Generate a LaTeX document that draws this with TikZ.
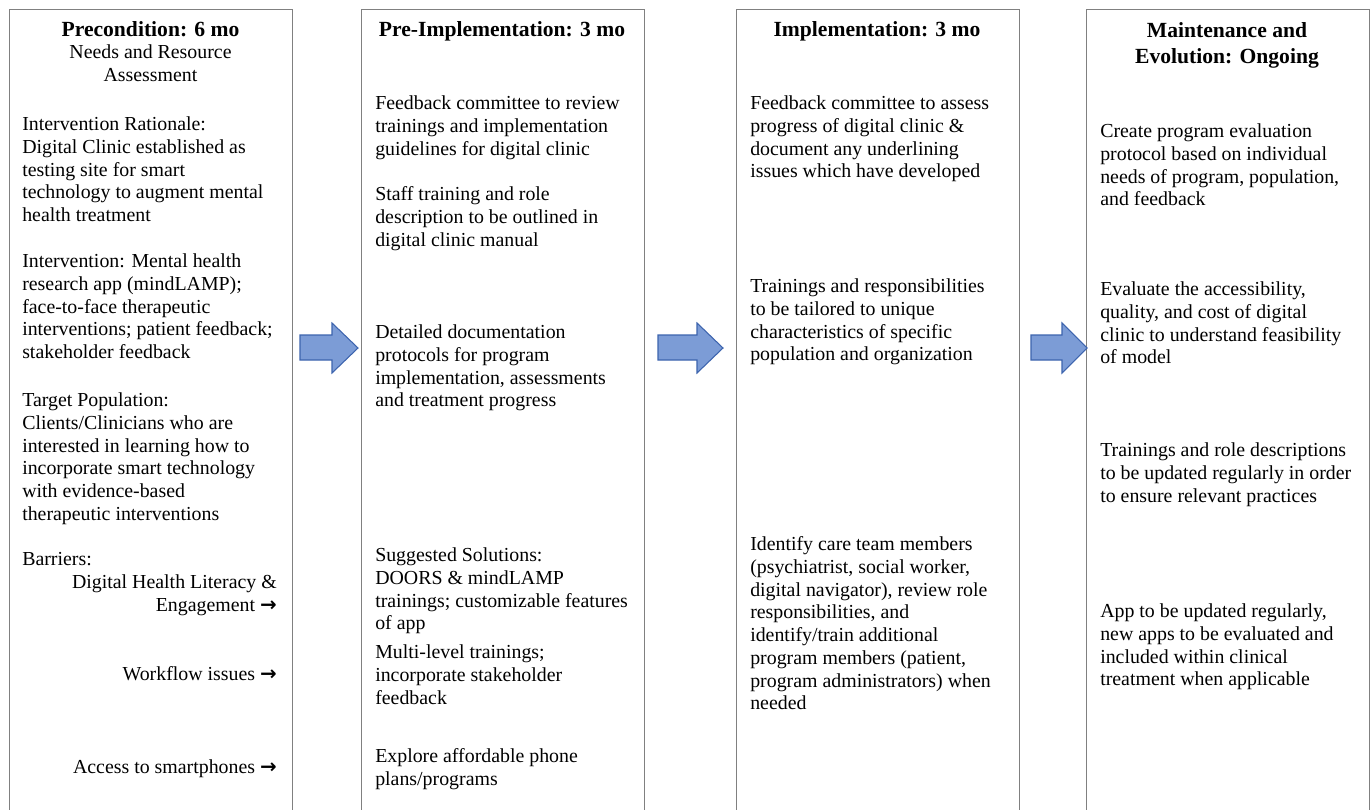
\documentclass[tikz,border=0pt]{standalone}
\usepackage{fontspec}
\setmainfont{Liberation Serif}
\newfontfamily\arrowfont{DejaVu Sans}
\newcommand\rarr{{\arrowfont\bfseries →}}
\definecolor{boxgray}{RGB}{128,128,128}
\definecolor{arrfill}{RGB}{124,156,214}
\definecolor{arrline}{RGB}{61,100,174}
\begin{document}
\begin{tikzpicture}[x=0.75pt,y=-0.75pt,
  colbox/.style={draw=boxgray,line width=1.1pt,inner sep=0pt,minimum width=212.25pt,minimum height=615pt,anchor=north west},
  body/.style={font=\fontsize{14.9}{17.05}\selectfont,align=left,anchor=north west,inner sep=0pt},
  rbody/.style={font=\fontsize{14.9}{17.05}\selectfont,align=right,anchor=north east,inner sep=0pt},
  sub/.style={font=\fontsize{14.9}{17.05}\selectfont,align=center,anchor=north,inner sep=0pt},
  ttl/.style={font=\fontsize{16.2}{19.5}\selectfont\bfseries,align=center,anchor=north,inner sep=0pt},
  blkarrow/.style={fill=arrfill,draw=arrline,line width=0.8pt,line join=miter}]
\useasboundingbox (0,0) rectangle (1371,810);
\fill[white] (0,0) rectangle (1371,810);

% column boxes
\node[colbox] (b1) at (9,9) {};
\node[colbox] (b2) at (361,9) {};
\node[colbox] (b3) at (736,9) {};
\node[colbox] (b4) at (1086,9) {};

% titles
\node[ttl] (t1) at (150.5,18.3) {\strut Precondition: 6 mo};
\node[sub] (s1) at (150.5,42.6) {\strut Needs and Resource\\Assessment};
\node[ttl] (t2) at (502,18.3) {\strut Pre-Implementation: 3 mo};
\node[ttl] (t3) at (877,18.3) {\strut Implementation: 3 mo};
\node[ttl] (t4) at (1227,19.5) {\strut Maintenance and\\Evolution: Ongoing};

% column 1
\node[body] (p1a) at (22,114.6) {\strut Intervention Rationale:\\Digital Clinic established as\\testing site for smart\\technology to augment mental\\health treatment};
\node[body] (p1b) at (22,251.6) {\strut Intervention: Mental health\\research app (mindLAMP);\\face-to-face therapeutic\\interventions; patient feedback;\\stakeholder feedback};
\node[body] (p1c) at (22,390.6) {\strut Target Population:\\Clients/Clinicians who are\\interested in learning how to\\incorporate smart technology\\with evidence-based\\therapeutic interventions};
\node[body] (p1d) at (22,549.6) {\strut Barriers:};
\node[rbody] (r1) at (277,572.6) {\strut Digital Health Literacy \&\\Engagement \rarr};
\node[rbody] (r2) at (277,664.6) {\strut Workflow issues \rarr};
\node[rbody] (r3) at (277,757.6) {\strut Access to smartphones \rarr};

% column 2
\node[body] (p2a) at (375,93.6) {\strut Feedback committee to review\\trainings and implementation\\guidelines for digital clinic};
\node[body] (p2b) at (375,184.6) {\strut Staff training and role\\description to be outlined in\\digital clinic manual};
\node[body] (p2c) at (375,322.6) {\strut Detailed documentation\\protocols for program\\implementation, assessments\\and treatment progress};
\node[body] (p2d) at (375,545.6) {\strut Suggested Solutions:\\DOORS \& mindLAMP\\trainings; customizable features\\of app};
\node[body] (p2e) at (375,642.6) {\strut Multi-level trainings;\\incorporate stakeholder\\feedback};
\node[body] (p2f) at (375,746.6) {\strut Explore affordable phone\\plans/programs};

% column 3
\node[body] (p3a) at (750,93.6) {\strut Feedback committee to assess\\progress of digital clinic \&\\document any underlining\\issues which have developed};
\node[body] (p3b) at (750,276.6) {\strut Trainings and responsibilities\\to be tailored to unique\\characteristics of specific\\population and organization};
\node[body] (p3c) at (750,534.6) {\strut Identify care team members\\(psychiatrist, social worker,\\digital navigator), review role\\responsibilities, and\\identify/train additional\\program members (patient,\\program administrators) when\\needed};

% column 4
\node[body] (p4a) at (1100,121.6) {\strut Create program evaluation\\protocol based on individual\\needs of program, population,\\and feedback};
\node[body] (p4b) at (1100,279.6) {\strut Evaluate the accessibility,\\quality, and cost of digital\\clinic to understand feasibility\\of model};
\node[body] (p4c) at (1100,440.6) {\strut Trainings and role descriptions\\to be updated regularly in order\\to ensure relevant practices};
\node[body] (p4d) at (1100,601.6) {\strut App to be updated regularly,\\new apps to be evaluated and\\included within clinical\\treatment when applicable};

% block arrows between phases
\draw[blkarrow] (300,335) -- (332,335) -- (332,323) -- (358,348) -- (332,373) -- (332,360) -- (300,360) -- cycle;
\draw[blkarrow] (658,335) -- (697,335) -- (697,323) -- (723,348) -- (697,373) -- (697,360) -- (658,360) -- cycle;
\draw[blkarrow] (1031,335) -- (1062,335) -- (1062,323) -- (1087,348) -- (1062,373) -- (1062,360) -- (1031,360) -- cycle;
\end{tikzpicture}
\end{document}
